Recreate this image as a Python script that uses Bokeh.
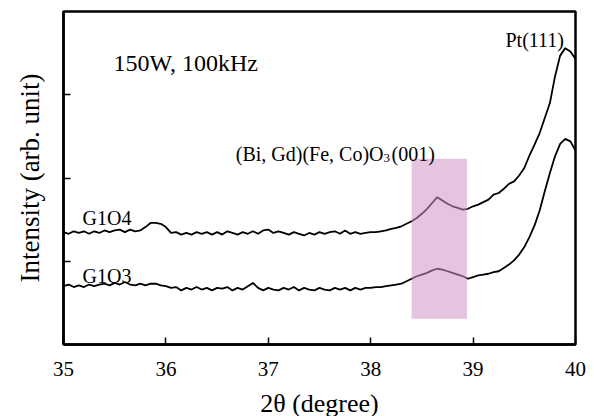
from bokeh.plotting import figure
from bokeh.models import Range1d, FixedTicker, Label
from bokeh.embed import file_html
from bokeh.resources import INLINE

# ---- data ----
two_theta = [
    35.00, 35.05, 35.10, 35.15, 35.20, 35.25, 35.30, 35.35, 35.40, 35.45,
    35.50, 35.55, 35.60, 35.65, 35.70, 35.75, 35.80, 35.85, 35.90, 35.95,
    36.00, 36.05, 36.10, 36.15, 36.20, 36.25, 36.30, 36.35, 36.40, 36.45,
    36.50, 36.55, 36.60, 36.65, 36.70, 36.75, 36.80, 36.85, 36.90, 36.95,
    37.00, 37.05, 37.10, 37.15, 37.20, 37.25, 37.30, 37.35, 37.40, 37.45,
    37.50, 37.55, 37.60, 37.65, 37.70, 37.75, 37.80, 37.85, 37.90, 37.95,
    38.00, 38.05, 38.10, 38.15, 38.20, 38.25, 38.30, 38.35, 38.40, 38.45,
    38.50, 38.55, 38.60, 38.65, 38.70, 38.75, 38.80, 38.85, 38.90, 38.95,
    39.00, 39.05, 39.10, 39.15, 39.20, 39.25, 39.30, 39.35, 39.40, 39.45,
    39.50, 39.55, 39.60, 39.65, 39.70, 39.75, 39.80, 39.85, 39.90, 39.95,
    40.00,
]

g1o4 = [
    1.35, 1.33, 1.36, 1.34, 1.36, 1.33, 1.36, 1.34, 1.37, 1.35,
    1.37, 1.38, 1.35, 1.38, 1.36, 1.37, 1.41, 1.46, 1.46, 1.45,
    1.41, 1.34, 1.35, 1.32, 1.34, 1.32, 1.35, 1.33, 1.35, 1.32,
    1.35, 1.32, 1.36, 1.34, 1.32, 1.35, 1.33, 1.36, 1.33, 1.37,
    1.38, 1.34, 1.36, 1.34, 1.32, 1.35, 1.33, 1.31, 1.34, 1.32,
    1.35, 1.33, 1.35, 1.36, 1.33, 1.37, 1.33, 1.35, 1.33, 1.34,
    1.35, 1.35, 1.36, 1.37, 1.39, 1.40, 1.42, 1.45, 1.48, 1.52,
    1.57, 1.63, 1.70, 1.77, 1.73, 1.69, 1.66, 1.64, 1.62, 1.63,
    1.66, 1.68, 1.71, 1.74, 1.80, 1.82, 1.87, 1.93, 1.96, 2.03,
    2.12, 2.27, 2.40, 2.54, 2.72, 2.90, 3.22, 3.47, 3.56, 3.52,
    3.43,
]

g1o3 = [
    0.70, 0.72, 0.69, 0.71, 0.69, 0.72, 0.70, 0.72, 0.73, 0.71,
    0.74, 0.72, 0.75, 0.72, 0.71, 0.73, 0.71, 0.73, 0.73, 0.71,
    0.70, 0.68, 0.69, 0.65, 0.68, 0.66, 0.69, 0.66, 0.68, 0.65,
    0.68, 0.67, 0.69, 0.65, 0.68, 0.66, 0.70, 0.74, 0.68, 0.65,
    0.68, 0.66, 0.65, 0.68, 0.66, 0.69, 0.65, 0.68, 0.66, 0.65,
    0.68, 0.66, 0.65, 0.68, 0.66, 0.68, 0.65, 0.68, 0.66, 0.68,
    0.68, 0.69, 0.69, 0.70, 0.71, 0.72, 0.73, 0.76, 0.79, 0.82,
    0.84, 0.86, 0.89, 0.91, 0.90, 0.88, 0.86, 0.84, 0.82, 0.79,
    0.81, 0.83, 0.84, 0.85, 0.87, 0.88, 0.92, 0.96, 1.01, 1.08,
    1.17, 1.29, 1.43, 1.61, 1.84, 2.06, 2.26, 2.41, 2.47, 2.44,
    2.33,
]

highlight_left = [38.40]
highlight_right = [38.94]
highlight_bottom = [0.31]
highlight_top = [2.23]

x_ticks = [35, 36, 37, 38, 39, 40]
y_ticks = [1, 2, 3]

FONT = "Liberation Serif"

p = figure(frame_width=512, frame_height=333,
           output_backend="svg", toolbar_location=None,
           x_range=Range1d(35, 40), y_range=Range1d(0, 4),
           min_border_left=63, min_border_right=19,
           min_border_top=11, min_border_bottom=72)

p.background_fill_color = "white"
p.border_fill_color = "white"
p.xgrid.visible = False
p.ygrid.visible = False
p.outline_line_color = "black"
p.outline_line_width = 2.5
p.outline_line_alpha = 1.0

p.line(two_theta, g1o4, line_color="black", line_width=1.8)
p.line(two_theta, g1o3, line_color="black", line_width=1.8)

p.quad(left=highlight_left, right=highlight_right, bottom=highlight_bottom,
       top=highlight_top, fill_color="#d292c3", fill_alpha=0.55, line_color=None)

for ax in (p.xaxis[0], p.yaxis[0]):
    ax.axis_line_color = "black"
    ax.axis_line_width = 2.5
    ax.major_tick_line_color = "black"
    ax.major_tick_line_width = 1.5
    ax.major_tick_in = 7
    ax.major_tick_out = 0
    ax.minor_tick_line_color = None
    ax.axis_label_text_font = FONT
    ax.axis_label_text_font_style = "normal"
    ax.axis_label_text_color = "black"
    ax.major_label_text_font = FONT

p.xaxis.ticker = FixedTicker(ticks=x_ticks)
p.xaxis.major_label_text_font_size = "21px"
p.xaxis.major_label_text_color = "black"
p.xaxis.major_label_standoff = 17
p.xaxis.axis_label = "2θ (degree)"
p.xaxis.axis_label_text_font_size = "26px"
p.xaxis.axis_label_standoff = 10

p.yaxis.ticker = FixedTicker(ticks=y_ticks)
p.yaxis.major_label_text_font_size = "10px"
p.yaxis.major_label_text_color = None
p.yaxis.major_label_standoff = 0
p.yaxis.axis_label = "Intensity (arb. unit)"
p.yaxis.axis_label_text_font_size = "27px"
p.yaxis.axis_label_standoff = 19

def add_label(x, y, text, size, align="left"):
    p.add_layout(Label(x=x, y=y, text=text, text_font=FONT, text_font_size=size,
                       text_color="black", text_align=align,
                       text_baseline="alphabetic"))

add_label(35.488, 3.387, "150W, 100kHz", "24px")
add_label(39.316, 3.652, "Pt(111)", "20px")
add_label(38.125, 2.294, "(Bi, Gd)(Fe, Co)O", "20px", align="right")
add_label(38.125, 2.246, "3", "13px")
add_label(38.203, 2.294, "(001)", "20px")
add_label(35.186, 1.514, "G1O4", "20px")
add_label(35.186, 0.817, "G1O3", "20px")

open("out.html", "w").write(file_html(p, INLINE))
